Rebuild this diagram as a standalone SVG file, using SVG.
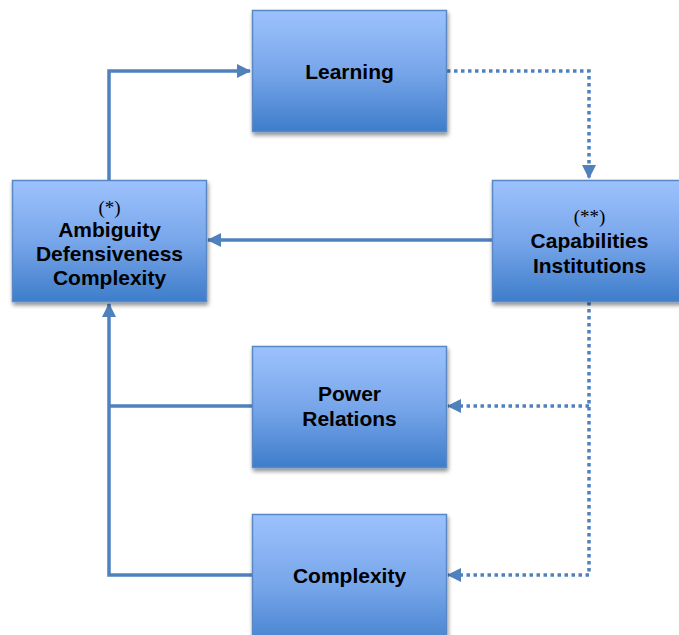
<svg xmlns="http://www.w3.org/2000/svg" width="679" height="635" viewBox="0 0 679 635">
<defs>
<linearGradient id="g" x1="0" y1="0" x2="0" y2="1">
<stop offset="0" stop-color="#9cc2fd"/>
<stop offset="0.5" stop-color="#78a6ea"/>
<stop offset="1" stop-color="#3e7dca"/>
</linearGradient>
<filter id="sh" x="-10%" y="-10%" width="130%" height="130%">
<feGaussianBlur in="SourceAlpha" stdDeviation="2"/>
<feOffset dx="1" dy="3" result="b"/>
<feComponentTransfer><feFuncA type="linear" slope="0.45"/></feComponentTransfer>
<feMerge><feMergeNode/><feMergeNode in="SourceGraphic"/></feMerge>
</filter>
<marker id="ah" markerWidth="14" markerHeight="14" refX="13" refY="7" orient="auto" markerUnits="userSpaceOnUse">
<path d="M0,0 L14,7 L0,14 Z" fill="#4f81bd"/>
</marker>
</defs>
<style>
.box{fill:url(#g);stroke:#5a88c4;stroke-width:1.5;filter:url(#sh)}
.t{font-family:"Liberation Sans",Arial,sans-serif;font-weight:bold;font-size:21px;fill:#000;text-anchor:middle}
.s{font-family:"Liberation Serif","Times New Roman",serif;font-size:19px;fill:#000;text-anchor:middle}
.c{fill:none;stroke:#4f81bd;stroke-width:3.5}
.d{fill:none;stroke:#4f81bd;stroke-width:3.5;stroke-dasharray:3.5 3.5}
</style>
<g id="connectors">
<path class="c" d="M109,180 V71 H250" marker-end="url(#ah)"/>
<path class="d" d="M447,71 H589 V178" marker-end="url(#ah)"/>
<path class="c" d="M492,240 H208" marker-end="url(#ah)"/>
<path class="d" d="M589,302 V575"/>
<path class="d" d="M589,406 H448" marker-end="url(#ah)"/>
<path class="d" d="M589,575 H448" marker-end="url(#ah)"/>
<path class="c" d="M252,406 H109"/>
<path class="c" d="M252,575 H109 V304" marker-end="url(#ah)"/>
</g>
<g id="learning">
<rect class="box" x="252.5" y="10.5" width="194" height="121"/>
<text class="t" x="349.5" y="79">Learning</text>
</g>
<g id="ambiguity">
<rect class="box" x="12.5" y="180.5" width="194" height="121"/>
<text class="s" x="109.5" y="214">(*)</text>
<text class="t" x="109.5" y="237">Ambiguity</text>
<text class="t" x="109.5" y="261">Defensiveness</text>
<text class="t" x="109.5" y="285">Complexity</text>
</g>
<g id="capabilities">
<rect class="box" x="492.5" y="180.5" width="194" height="121"/>
<text class="s" x="589.5" y="223">(**)</text>
<text class="t" x="589.5" y="248">Capabilities</text>
<text class="t" x="589.5" y="273">Institutions</text>
</g>
<g id="power">
<rect class="box" x="252.5" y="346.5" width="194" height="121"/>
<text class="t" x="349.5" y="401">Power</text>
<text class="t" x="349.5" y="426">Relations</text>
</g>
<g id="complexity">
<rect class="box" x="252.5" y="514.5" width="194" height="140"/>
<text class="t" x="349.5" y="583">Complexity</text>
</g>
</svg>
